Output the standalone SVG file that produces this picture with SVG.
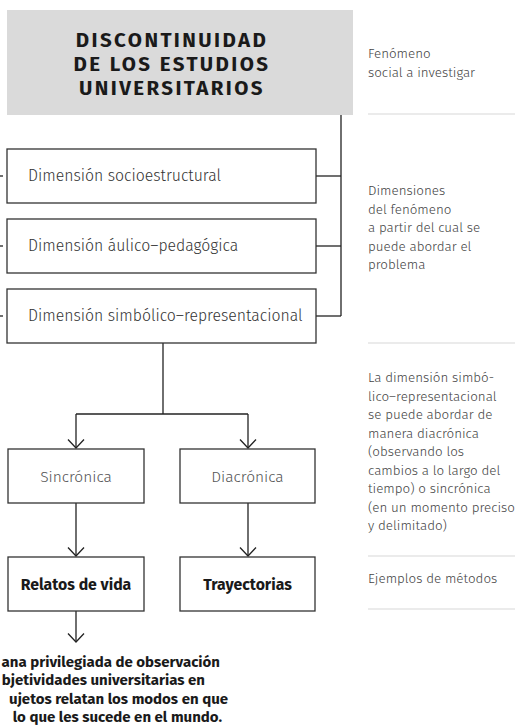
<svg xmlns="http://www.w3.org/2000/svg" width="515" height="727" viewBox="0 0 515 727">
<defs>
<style>
.box{fill:#fff;stroke:#333;stroke-width:1.3}
.ln{fill:none;stroke:#222;stroke-width:1.3}
.sep{stroke:#e4e4e4;stroke-width:1.5}
.t{font-family:"Fira Sans","Noto Sans","Open Sans",sans-serif}
.title{font-size:20.5px;font-weight:700;fill:#1a1a1a;letter-spacing:2.4px;text-anchor:middle}
.dim{font-size:15.8px;fill:#333;font-weight:300}
.mid{font-size:15.5px;fill:#555;text-anchor:middle;font-weight:300}
.bold{font-size:15.8px;font-weight:700;fill:#1a1a1a;text-anchor:middle}
.note{font-size:13.4px;fill:#444;font-weight:300}
.foot{font-size:15px;font-weight:700;fill:#1a1a1a;text-anchor:end}
</style>
<marker id="chev" viewBox="-10 -10 12 20" markerWidth="12" markerHeight="20" refX="0" refY="0" orient="auto" markerUnits="userSpaceOnUse">
<path d="M-8.5,-8 L0,0 L-8.5,8" fill="none" stroke="#222" stroke-width="1.3"/>
</marker>
</defs>
<rect width="515" height="727" fill="#fff"/>

<g id="notes" class="t note">
<line class="sep" x1="368" y1="114" x2="515" y2="114"/>
<line class="sep" x1="368" y1="343" x2="515" y2="343"/>
<line class="sep" x1="368" y1="556" x2="515" y2="556"/>
<line class="sep" x1="368" y1="609" x2="515" y2="609"/>
<text x="368" y="58">Fenómeno</text>
<text x="368" y="77">social a investigar</text>
<text x="368" y="195">Dimensiones</text>
<text x="368" y="213.5">del fenómeno</text>
<text x="368" y="232">a partir del cual se</text>
<text x="368" y="250.5">puede abordar el</text>
<text x="368" y="269">problema</text>
<text x="368" y="382">La dimensión simbó-</text>
<text x="368" y="400.5">lico–representacional</text>
<text x="368" y="419">se puede abordar de</text>
<text x="368" y="437.5">manera diacrónica</text>
<text x="368" y="456">(observando los</text>
<text x="368" y="474.5">cambios a lo largo del</text>
<text x="368" y="493">tiempo) o sincrónica</text>
<text x="368" y="511.5">(en un momento preciso</text>
<text x="368" y="530">y delimitado)</text>
<text x="368" y="583">Ejemplos de métodos</text>
</g>

<g id="connectors">
<path class="ln" d="M341,115 V316"/>
<path class="ln" d="M316,176 H341"/>
<path class="ln" d="M316,246 H341"/>
<path class="ln" d="M316,316 H341"/>
<path class="ln" d="M0,176 H3"/>
<path class="ln" d="M0,246 H3"/>
<path class="ln" d="M0,316 H3"/>
<path class="ln" d="M163,343 V414"/>
<path class="ln" d="M76,414 H248"/>
<path class="ln" d="M76,414 V448" marker-end="url(#chev)"/>
<path class="ln" d="M248,414 V448" marker-end="url(#chev)"/>
<path class="ln" d="M76,503 V556" marker-end="url(#chev)"/>
<path class="ln" d="M248,503 V556" marker-end="url(#chev)"/>
<path class="ln" d="M76,611 V642" marker-end="url(#chev)"/>
</g>

<g id="title">
<rect x="7" y="10" width="346" height="105" fill="#dadada"/>
<text class="t title" x="172" y="47">DISCONTINUIDAD</text>
<text class="t title" x="172" y="71">DE LOS ESTUDIOS</text>
<text class="t title" x="172" y="95">UNIVERSITARIOS</text>
</g>

<g id="dim1">
<rect class="box" x="7" y="149" width="309" height="54"/>
<text class="t dim" x="28" y="181">Dimensión socioestructural</text>
</g>
<g id="dim2">
<rect class="box" x="7" y="219" width="309" height="54"/>
<text class="t dim" x="28" y="251">Dimensión áulico–pedagógica</text>
</g>
<g id="dim3">
<rect class="box" x="7" y="289" width="309" height="54"/>
<text class="t dim" x="28" y="321">Dimensión simbólico–representacional</text>
</g>

<g id="sincronica">
<rect class="box" x="8" y="449" width="136" height="54"/>
<text class="t mid" x="76" y="481.5">Sincrónica</text>
</g>
<g id="diacronica">
<rect class="box" x="180" y="449" width="135" height="54"/>
<text class="t mid" x="247.5" y="481.5">Diacrónica</text>
</g>
<g id="relatos">
<rect class="box" x="8" y="557" width="136" height="54"/>
<text class="t bold" x="76" y="589.5">Relatos de vida</text>
</g>
<g id="trayectorias">
<rect class="box" x="180" y="557" width="135" height="54"/>
<text class="t bold" x="247.5" y="589.5">Trayectorias</text>
</g>

<g id="footnote" class="t foot">
<text x="220" y="666.5">ana privilegiada de observación</text>
<text x="205" y="685">bjetividades universitarias en</text>
<text x="228" y="703.5">ujetos relatan los modos en que</text>
<text x="222" y="722">lo que les sucede en el mundo.</text>
</g>
</svg>
